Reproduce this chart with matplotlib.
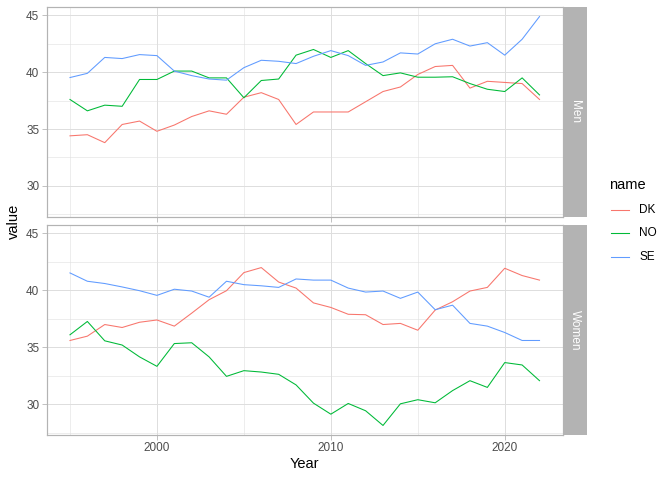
import matplotlib
matplotlib.use("Agg")
import matplotlib.pyplot as plt
from matplotlib.lines import Line2D
from matplotlib.patches import Rectangle
import numpy as np

plt.rcParams["font.family"] = ["Liberation Sans", "DejaVu Sans"]

years = list(range(1995, 2023))
names = ["DK", "NO", "SE"]
colors = {"DK": "#F8766D", "NO": "#00BA38", "SE": "#619CFF"}

men_dk = [34.4, 34.5, 33.8, 35.4, 35.7, 34.8, 35.35, 36.1, 36.6, 36.3, 37.8, 38.2, 37.6, 35.4,
          36.5, 36.5, 36.5, 37.4, 38.3, 38.7, 39.8, 40.5, 40.6, 38.6, 39.2, 39.1, 39.0, 37.6]
men_no = [37.6, 36.6, 37.1, 37.0, 39.36, 39.36, 40.1, 40.1, 39.5, 39.5, 37.75, 39.27, 39.4, 41.5,
          42.0, 41.3, 41.9, 40.76, 39.7, 39.94, 39.56, 39.56, 39.6, 39.0, 38.5, 38.3, 39.5, 38.0]
men_se = [39.53, 39.9, 41.3, 41.2, 41.55, 41.46, 40.1, 39.7, 39.4, 39.3, 40.4, 41.05, 40.96, 40.76,
          41.4, 41.9, 41.46, 40.6, 40.9, 41.7, 41.6, 42.5, 42.9, 42.3, 42.6, 41.5, 42.9, 44.9]
women_dk = [35.6, 35.98, 37.0, 36.74, 37.2, 37.4, 36.86, 38.0, 39.18, 39.97, 41.56, 42.0, 40.73, 40.2,
            38.9, 38.5, 37.9, 37.86, 37.0, 37.1, 36.5, 38.27, 39.0, 39.94, 40.26, 41.94, 41.3, 40.9]
women_no = [36.1, 37.27, 35.57, 35.2, 34.16, 33.33, 35.33, 35.4, 34.16, 32.45, 32.95, 32.83, 32.63, 31.7,
            30.1, 29.13, 30.07, 29.43, 28.14, 30.04, 30.4, 30.13, 31.2, 32.07, 31.48, 33.66, 33.45, 32.07]
women_se = [41.53, 40.8, 40.6, 40.3, 39.97, 39.56, 40.1, 39.94, 39.4, 40.8, 40.5, 40.4, 40.26, 41.0,
            40.9, 40.9, 40.2, 39.85, 39.94, 39.3, 39.85, 38.3, 38.7, 37.1, 36.86, 36.3, 35.6, 35.6]

panels = [("Men", {"DK": men_dk, "NO": men_no, "SE": men_se}),
          ("Women", {"DK": women_dk, "NO": women_no, "SE": women_se})]

W, H = 672, 480
DPI = 96
fig = plt.figure(figsize=(W / DPI, H / DPI), dpi=DPI)
fig.patch.set_facecolor("white")

def px_rect(x0, y0, x1, y1):
    return [x0 / W, 1 - y1 / H, (x1 - x0) / W, (y1 - y0) / H]

allv = np.concatenate([np.array(v) for _, d in panels for v in d.values()])
ymin, ymax = allv.min(), allv.max()
yexp = (ymax - ymin) * 0.05
xexp = (years[-1] - years[0]) * 0.05

grey70 = "#B3B3B3"
grey87 = "#DEDEDE"
txtgrey = "#4D4D4D"

left, right = 46.5, 563.0
rows = [(7, 216.5), (225, 435)]
strip_r = 586.5

for i, ((label, data), (top, bot)) in enumerate(zip(panels, rows)):
    ax = fig.add_axes(px_rect(left, top, right, bot))
    ax.set_xlim(years[0] - xexp, years[-1] + xexp)
    ax.set_ylim(ymin - yexp, ymax + yexp)
    ax.set_xticks([2000, 2010, 2020])
    ax.set_xticks([1995, 2005, 2015], minor=True)
    ax.set_yticks([30, 35, 40, 45])
    ax.set_yticks([27.5, 32.5, 37.5, 42.5], minor=True)
    ax.grid(True, which="major", color=grey87, linewidth=0.75)
    ax.grid(True, which="minor", color=grey87, linewidth=0.4)
    ax.set_axisbelow(True)
    for s in ax.spines.values():
        s.set_color(grey70)
        s.set_linewidth(0.9)
    ax.tick_params(which="major", length=3.5, width=0.6, color=grey70,
                   labelsize=8.8, labelcolor=txtgrey, pad=2)
    ax.tick_params(which="minor", length=0)
    if i == 0:
        ax.tick_params(axis="x", labelbottom=False)
    for n in names:
        ax.plot(years, data[n], color=colors[n], linewidth=0.8)
    # strip
    sx = fig.add_axes(px_rect(right, top, strip_r, bot))
    sx.set_xlim(0, 1); sx.set_ylim(0, 1)
    sx.axis("off")
    sx.add_patch(Rectangle((0, 0), 1, 1, facecolor=grey70, edgecolor="none"))
    sx.text(0.5, 0.5, label, rotation=-90, ha="center", va="center",
            color="white", fontsize=8.8)

fig.text(14 / W, 1 - 221 / H, "value", rotation=90, ha="center", va="center", fontsize=11)
fig.text(304 / W, 1 - 464 / H, "Year", ha="center", va="center", fontsize=11)

# legend
fig.text(609 / W, 1 - 185 / H, "name", ha="left", va="center", fontsize=11)
ys = [210, 232.5, 257]
for n, yy in zip(names, ys):
    fig.add_artist(Line2D([611 / W, 629 / W], [1 - yy / H, 1 - yy / H],
                          color=colors[n], linewidth=0.8, transform=fig.transFigure))
    fig.text(639 / W, 1 - yy / H, n, ha="left", va="center", fontsize=8.8)

fig.savefig("out.png", dpi=DPI)
